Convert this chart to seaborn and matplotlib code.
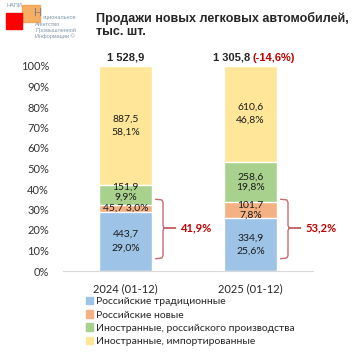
import numpy as np
import pandas as pd
import matplotlib
matplotlib.use("Agg")
import matplotlib.pyplot as plt
import seaborn as sns

# data
periods = ["2024 (01-12)", "2025 (01-12)"]
series = ["Российские традиционные", "Российские новые",
          "Иностранные, российского производства", "Иностранные, импортированные"]
rus_trad = [443.7, 334.9]
rus_new = [45.7, 101.7]
foreign_local = [151.9, 258.6]
foreign_import = [887.5, 610.6]
shares = [[29.0, 25.6], [3.0, 7.8], [9.9, 19.8], [58.1, 46.8]]
totals = ["1 528,9", "1 305,8"]
change = "(-14,6%)"
russian_share = ["41,9%", "53,2%"]
colors = ["#9dc3e6", "#f4b183", "#a9d18e", "#ffe699"]

values = np.array([rus_trad, rus_new, foreign_local, foreign_import])
pct = values / values.sum(axis=0) * 100
cum = pct.cumsum(axis=0)

sns.set_style("white")
plt.rcParams["font.family"] = ["Lato", "DejaVu Sans"]

fig = plt.figure(figsize=(3.53, 3.53), dpi=100)
ax = fig.add_axes([63 / 353, 1 - 271 / 353, 250 / 353, 205 / 353])

# stacked bars: draw cumulative heights from top layer down
for i in range(3, -1, -1):
    df = pd.DataFrame({"period": periods, "cum": cum[i]})
    sns.barplot(data=df, x="period", y="cum", color=colors[i], width=0.43,
                saturation=1, ax=ax)

ax.set_ylim(0, 100)
ax.set_xlim(-0.5, 1.5)
ax.set_yticks(np.arange(0, 101, 10))
ax.set_yticklabels([f"{v}%" for v in range(0, 101, 10)], fontsize=8, color="#333333")
ax.tick_params(axis="both", length=0, pad=10)
ax.tick_params(axis="x", labelsize=8, pad=9)
ax.set_xlabel("")
ax.set_ylabel("")
for s in ["top", "right", "left"]:
    ax.spines[s].set_visible(False)
ax.spines["bottom"].set_color("#d9d9d9")

# segment labels
spacing = [1.6, 1.15, 1.15, 1.6]
for j in range(2):
    for i in range(4):
        mid = cum[i, j] - pct[i, j] / 2
        v = f"{values[i, j]:.1f}".replace(".", ",")
        p = f"{shares[i][j]:.1f}".replace(".", ",") + "%"
        if j == 0 and i == 1:
            txt = f"{v} {p}"
        else:
            txt = f"{v}\n{p}"
        dy = 1.5 if i == 2 and j == 0 else 0
        ax.text(j, mid + dy, txt, ha="center", va="center", fontsize=7.5,
                linespacing=spacing[i], color="#1a1a1a")

# totals above bars
ax.text(0, 101.5, totals[0], ha="center", va="bottom", fontsize=8,
        fontweight="bold", family="Liberation Sans")
ax.annotate(totals[1] + " ", xy=(1, 101.5), xytext=(2, 0), textcoords="offset points",
            ha="right", va="bottom", fontsize=8, fontweight="bold",
            family="Liberation Sans", annotation_clip=False)
ax.annotate(change, xy=(1, 101.5), xytext=(1.5, 0), textcoords="offset points",
            ha="left", va="bottom", fontsize=8, fontweight="bold",
            family="Liberation Sans", color="#c00000", annotation_clip=False)

# braces for russian-made share
for j in range(2):
    xv = j + 0.30
    top, bot, mid = 35.0, 6.0, 21.0
    bx = [xv - 0.06, xv - 0.01, xv, xv, xv + 0.01, xv + 0.10, xv + 0.01, xv, xv, xv - 0.01, xv - 0.06]
    by = [top, top - 0.3, top - 1.5, mid + 1.2, mid, mid, mid, mid - 1.2, bot + 1.5, bot + 0.3, bot]
    ax.plot(bx, by, color="#c86b6e", lw=1.0, clip_on=False, solid_joinstyle="round")
    ax.text(xv + 0.14, mid, russian_share[j], ha="left", va="center", fontsize=8,
            fontweight="bold", color="#c00000")

# title
fig.text(96 / 353, 1 - 12 / 353, "Продажи новых легковых автомобилей,\nтыс. шт.",
         ha="left", va="top", fontsize=9, fontweight="bold",
         family="Liberation Sans", linespacing=1.15)

# logo
fig.patches.append(plt.Rectangle((22 / 353, 1 - 22 / 353), 18 / 353, 17 / 353,
                                 transform=fig.transFigure, color="#f5a04a", alpha=0.85))
fig.patches.append(plt.Rectangle((6 / 353, 1 - 29 / 353), 16 / 353, 16 / 353,
                                 transform=fig.transFigure, color="#ff0000"))
fig.text(6 / 353, 1 - 3 / 353, "НАПИ", fontsize=4, color="#8096a8", va="top",
         family="Liberation Sans")
fig.text(33 / 353, 1 - 8 / 353, "Н", fontsize=8, color="#7f7f7f", va="top",
         family="Liberation Sans")
fig.text(43 / 353, 1 - 15 / 353, "ациональное", fontsize=4, color="#8096a8", va="top",
         family="Liberation Sans")
fig.text(35 / 353, 1 - 22 / 353, "Агентство\nПромышленной\nИнформации ©", fontsize=4,
         color="#8096a8", va="top", family="Liberation Sans", linespacing=1.1)

# legend
handles = [plt.Rectangle((0, 0), 1, 1, color=c) for c in colors]
fig.legend(handles, series, loc="upper left", bbox_to_anchor=(86 / 353, 1 - 297 / 353),
           frameon=False, fontsize=7.5, handlelength=0.7, handleheight=0.7,
           handletextpad=0.3, labelspacing=0.38, borderaxespad=0, borderpad=0)

fig.savefig("out.png", dpi=100)
